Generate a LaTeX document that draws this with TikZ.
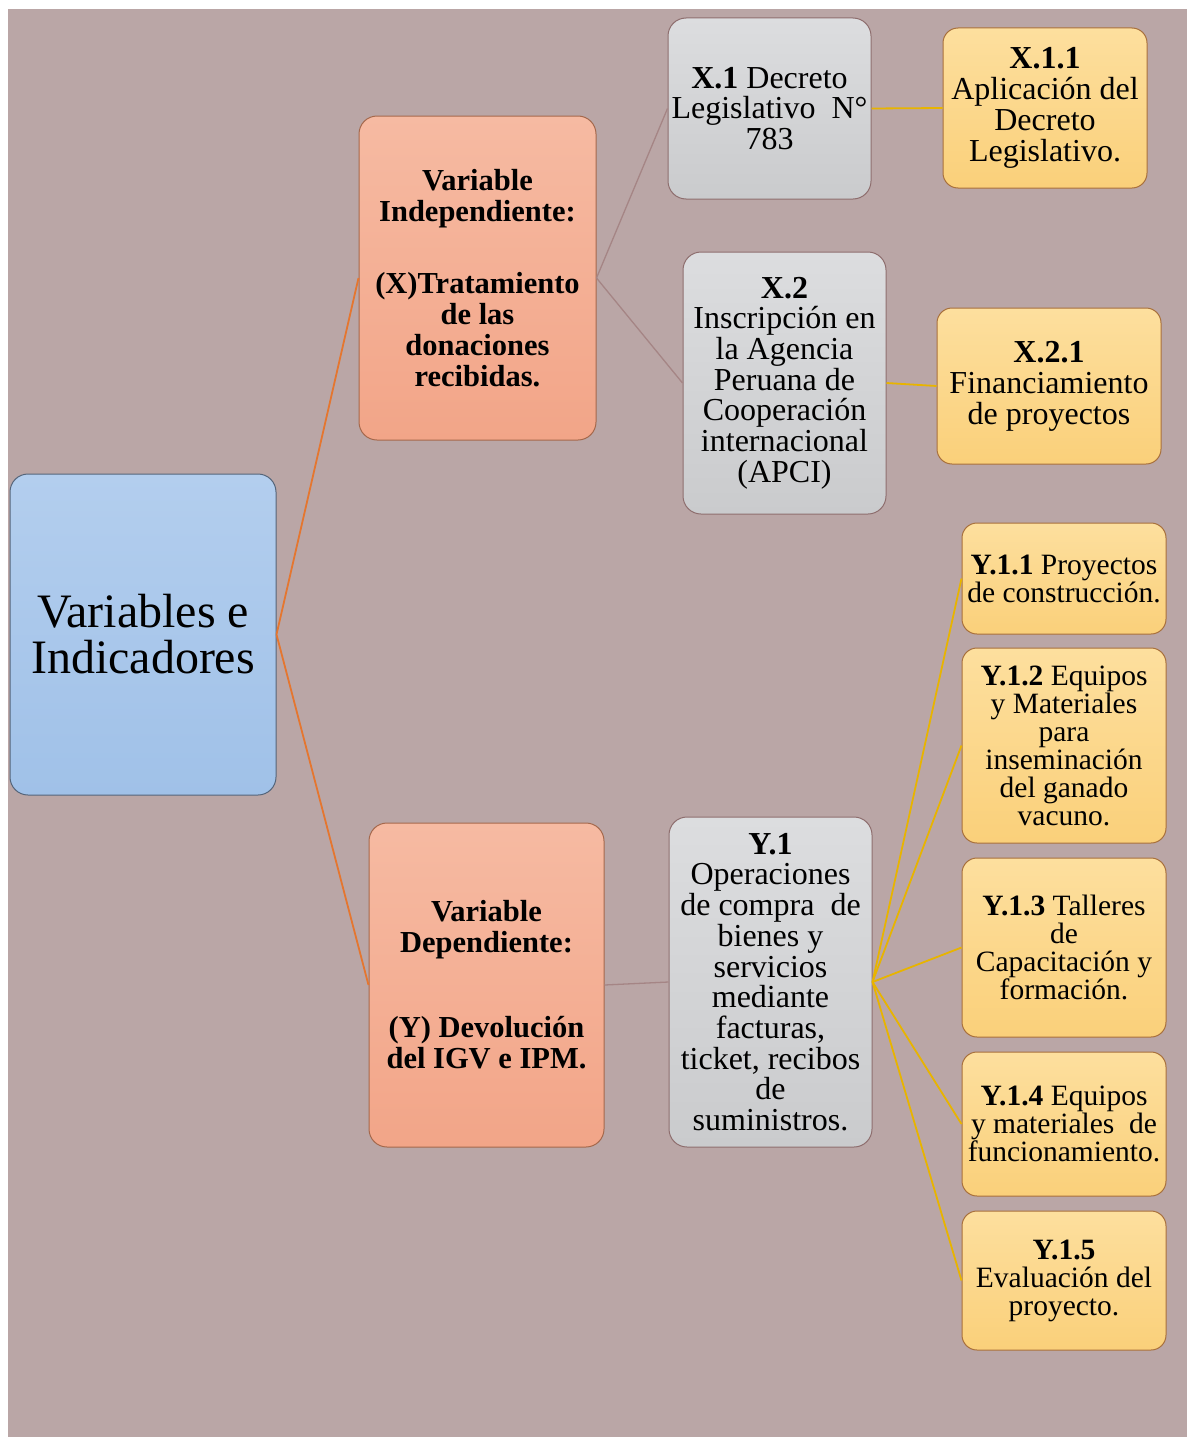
\documentclass[tikz,border=0pt]{standalone}
\usepackage{fontspec}
\setmainfont{Liberation Serif}
\definecolor{bgc}{HTML}{BAA6A6}
\definecolor{blueA}{HTML}{B3CEEE}
\definecolor{blueB}{HTML}{A0C1E8}
\definecolor{blueD}{HTML}{55657A}
\definecolor{salA}{HTML}{F6BAA2}
\definecolor{salB}{HTML}{F2A588}
\definecolor{salD}{HTML}{A5684C}
\definecolor{grayA}{HTML}{DCDDDF}
\definecolor{grayB}{HTML}{CACBCD}
\definecolor{grayD}{HTML}{8E6E6E}
\definecolor{yelA}{HTML}{FDDF9E}
\definecolor{yelB}{HTML}{FAD07A}
\definecolor{yelD}{HTML}{A8703C}
\definecolor{orangeL}{HTML}{E5762F}
\definecolor{goldL}{HTML}{E8B400}
\definecolor{brownL}{HTML}{A58585}
\begin{document}
\begin{tikzpicture}[x=1pt,y=-1pt,
  box/.style={rounded corners=18pt, line width=1pt, align=center, inner sep=0pt, text=black},
  rootbox/.style={box, top color=blueA, bottom color=blueB, draw=blueD, font=\fontsize{48}{46}\selectfont},
  varbox/.style={box, top color=salA, bottom color=salB, draw=salD, font=\bfseries\fontsize{30.5}{31}\selectfont},
  graybox/.style={box, top color=grayA, bottom color=grayB, draw=grayD, font=\fontsize{32}{30.7}\selectfont},
  yelbox/.style={box, rounded corners=15pt, top color=yelA, bottom color=yelB, draw=yelD, font=\fontsize{32}{31}\selectfont},
  ybox/.style={yelbox, font=\fontsize{29.5}{28}\selectfont},
  orangeconn/.style={draw=orangeL, line width=1.8pt},
  thinconn/.style={draw=brownL, line width=1.3pt},
  goldconn/.style={draw=goldL, line width=1.8pt}
]
\useasboundingbox (0,0) rectangle (1187,1437);
\fill[white] (0,0) rectangle (1187,1437);
\fill[bgc] (8,9) rectangle (1187,1437);

% root
\node[rootbox, minimum width=266pt, minimum height=321pt] (root) at (143,634.5) {Variables e\\Indicadores};

% variables
\node[varbox, minimum width=237pt, minimum height=324pt] (vind) at (477.5,278) {Variable\\Independiente:\\[41pt](X)Tratamiento\\de las\\donaciones\\recibidas.};
\node[varbox, minimum width=235pt, minimum height=324pt] (vdep) at (486.5,985) {Variable\\Dependiente:\\[54pt](Y) Devoluci\'on\\del IGV e IPM.};

% X dimensions
\node[graybox, minimum width=203pt, minimum height=181pt] (x1) at (769.5,108.5) {\textbf{X.1} Decreto\\Legislativo\ \ N°\\783};
\node[graybox, minimum width=203pt, minimum height=262pt] (x2) at (784.5,383) {\textbf{X.2}\\Inscripción en\\la Agencia\\Peruana de\\Cooperación\\internacional\\(APCI)};

% X indicators
\node[yelbox, minimum width=204pt, minimum height=160pt] (x11) at (1045,108) {\textbf{X.1.1}\\Aplicación del\\Decreto\\Legislativo.};
\node[yelbox, minimum width=224pt, minimum height=156pt] (x21) at (1049,386) {\textbf{X.2.1}\\Financiamiento\\de proyectos};

% Y dimension
\node[graybox, minimum width=203pt, minimum height=330pt] (y1) at (770.5,982) {\textbf{Y.1}\\Operaciones\\de compra\ \ de\\bienes y\\servicios\\mediante\\facturas,\\ticket, recibos\\de\\suministros.};

% Y indicators
\node[ybox, minimum width=204pt, minimum height=111pt] (y11) at (1064,578.5) {\textbf{Y.1.1} Proyectos\\de construcción.};
\node[ybox, minimum width=204pt, minimum height=195pt] (y12) at (1064,745.5) {\textbf{Y.1.2} Equipos\\y Materiales\\para\\inseminación\\del ganado\\vacuno.};
\node[ybox, minimum width=204pt, minimum height=179pt] (y13) at (1064,947.5) {\textbf{Y.1.3} Talleres\\de\\Capacitación y\\formación.};
\node[ybox, minimum width=204pt, minimum height=144pt] (y14) at (1064,1124) {\textbf{Y.1.4} Equipos\\y materiales\ \ de\\funcionamiento.};
\node[ybox, minimum width=204pt, minimum height=139pt] (y15) at (1064,1280.5) {\textbf{Y.1.5}\\Evaluación del\\proyecto.};

% connectors
\draw[orangeconn] (root.east) -- (vind.west);
\draw[orangeconn] (root.east) -- (vdep.west);
\draw[thinconn] (vind.east) -- (x1.west);
\draw[thinconn] (vind.east) -- (x2.west);
\draw[goldconn] (x1.east) -- (x11.west);
\draw[goldconn] (x2.east) -- (x21.west);
\draw[thinconn] (vdep.east) -- (y1.west);
\draw[goldconn] (y1.east) -- (y11.west);
\draw[goldconn] (y1.east) -- (y12.west);
\draw[goldconn] (y1.east) -- (y13.west);
\draw[goldconn] (y1.east) -- (y14.west);
\draw[goldconn] (y1.east) -- (y15.west);
\end{tikzpicture}
\end{document}
